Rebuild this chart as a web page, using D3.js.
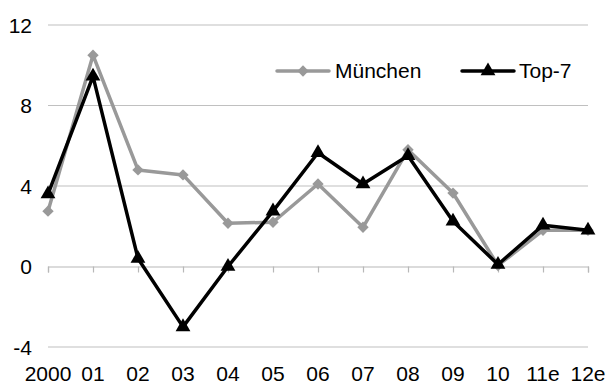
<!DOCTYPE html>
<html><head><meta charset="utf-8">
<script src="https://cdnjs.cloudflare.com/ajax/libs/d3/7.8.5/d3.min.js"></script>
<style>body{margin:0;background:#fff}svg{display:block}text{font-family:"Liberation Sans",Arial,sans-serif;font-size:21px;fill:#000}</style>
</head><body><svg id="c" width="609" height="385"></svg>
<script>
const categories = ["2000","01","02","03","04","05","06","07","08","09","10","11e","12e"];
const muenchen = [2.75,10.5,4.8,4.55,2.15,2.2,4.1,1.95,5.8,3.65,0.05,1.8,1.8];
const top7 = [3.6,9.45,0.4,-3.0,0.0,2.75,5.65,4.1,5.5,2.25,0.1,2.05,1.8];
const yTicks = [-4,0,4,8,12];
const seriesNames = ["München","Top-7"];
const colors = ["#999999","#000000"];

const svg = d3.select("#c");
const x = d3.scalePoint().domain(categories).range([48,588]);
const y = d3.scaleLinear().domain([-4,12]).range([347,25]);

svg.append("g").selectAll("line").data(yTicks.filter(d=>d!==0)).join("line")
  .attr("x1",48).attr("x2",588).attr("y1",d=>y(d)).attr("y2",d=>y(d))
  .attr("stroke","#c0c0c0").attr("stroke-width",1.2);

svg.append("g").selectAll("text").data(yTicks).join("text")
  .attr("x",32).attr("y",d=>y(d)).attr("dy","0.36em").attr("text-anchor","end").text(d=>d);

const ax = svg.append("g").attr("transform",`translate(0,${y(0)})`)
  .call(d3.axisBottom(x).tickSize(6).tickFormat(""));
ax.select(".domain").attr("stroke","#b8b8b8").attr("stroke-width",1.2);
ax.selectAll(".tick line").attr("stroke","#b8b8b8").attr("stroke-width",1.2);

svg.append("g").selectAll("text").data(categories).join("text")
  .attr("x",d=>x(d)).attr("y",381).attr("text-anchor","middle").text(d=>d);

const line = d3.line().x((d,i)=>x(categories[i])).y(d=>y(d));
const diamondPath = d3.symbol().type(d3.symbolSquare).size(64)();
const triPath = d3.symbol().type(d3.symbolTriangle).size(95)();

function drawSeries(data,color,path,rot){
  svg.append("path").datum(data).attr("d",line).attr("fill","none")
    .attr("stroke",color).attr("stroke-width",3.5).attr("stroke-linejoin","round");
  svg.append("g").selectAll("path").data(data).join("path")
    .attr("transform",(d,i)=>`translate(${x(categories[i])},${y(d)}) rotate(${rot})`)
    .attr("d",path).attr("fill",color);
}
drawSeries(muenchen,colors[0],diamondPath,45);
drawSeries(top7,colors[1],triPath,0);

const lg = svg.append("g");
const legend = [{name:seriesNames[0],color:colors[0],x1:277,x2:329,tx:335,path:diamondPath,rot:45},
                {name:seriesNames[1],color:colors[1],x1:462,x2:514,tx:519,path:triPath,rot:0}];
legend.forEach(l=>{
  lg.append("line").attr("x1",l.x1).attr("x2",l.x2).attr("y1",71).attr("y2",71)
    .attr("stroke",l.color).attr("stroke-width",3.5).attr("stroke-linecap","round");
  const cx=(l.x1+l.x2)/2;
  lg.append("path").attr("d",l.path).attr("transform",`translate(${cx},71) rotate(${l.rot})`).attr("fill",l.color);
  lg.append("text").attr("x",l.tx).attr("y",78).text(l.name);
});
</script>
</body></html>
